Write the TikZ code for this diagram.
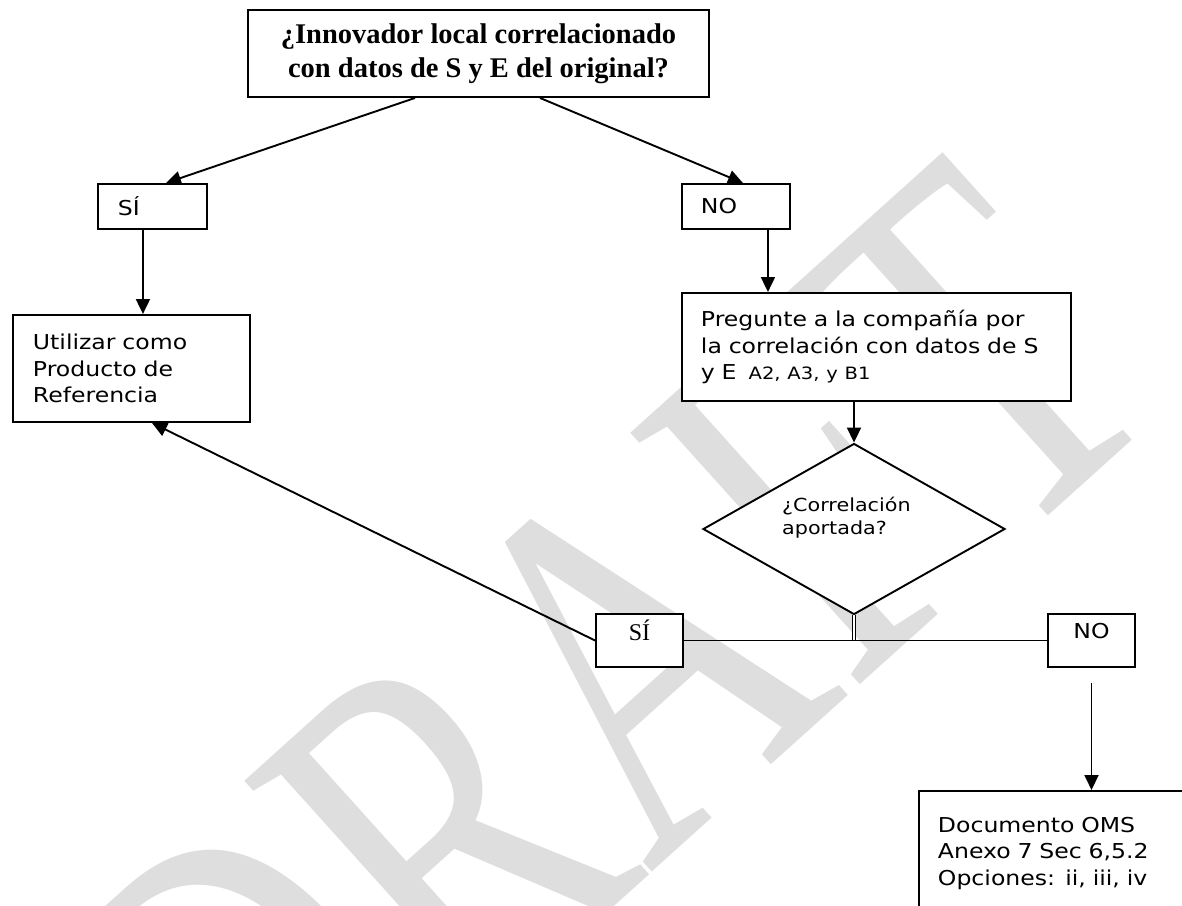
\documentclass[tikz,border=0pt]{standalone}
\usepackage{fontspec}
\setmainfont{DejaVu Sans}[FakeStretch=1.15]
\newfontfamily\vsans{DejaVu Sans}[FakeStretch=1.15]
\newfontfamily\tnr{Liberation Serif}
\usetikzlibrary{shapes.geometric,arrows.meta}
\definecolor{wm}{RGB}{222,222,222}
\begin{document}
\begin{tikzpicture}[x=1pt,y=-1pt,
  font=\vsans\fontsize{20.5}{26.5}\selectfont,
  box/.style={draw, line width=1.9pt, fill=white, rectangle, inner ysep=0pt},
  lbox/.style={box, anchor=north west, align=left},
  arr/.style={line width=1.9pt, -{Triangle[length=15pt,width=14pt]}},
  ln/.style={line width=1.9pt}]
\useasboundingbox (0,0) rectangle (1182,905);
\clip (0,0) rectangle (1182,905);
% watermark
\node[rotate=42, text=wm, inner sep=0pt, font=\tnr\fontsize{520}{520}\selectfont] (wmark) at (605,685) {\scalebox{0.72}[1]{DRAFT}};
% boxes
\node[box, minimum width=461pt, minimum height=87pt, align=center,
      font=\tnr\bfseries\fontsize{28.5}{34}\selectfont] (q) at (478.5,53.5)
      {¿Innovador local correlacionado\\con datos de S y E del original?};
\node[lbox, text width=69pt, inner xsep=20pt, minimum height=45pt] (siA) at (97,183) {SÍ};
\node[lbox, text width=70pt, inner xsep=19pt, minimum height=45pt] (noA) at (681,183) {NO};
\node[lbox, text width=197pt, inner xsep=20pt, minimum height=107pt] (util) at (12,314)
      {Utilizar como\\Producto de\\Referencia};
\node[lbox, text width=351pt, inner xsep=19pt, minimum height=108pt] (preg) at (681,292)
      {Pregunte a la compañía por\\la correlación con datos de S\\y E\hspace{12pt}{\fontsize{17}{26.5}\selectfont A2, A3, y B1}};
\node[diamond, draw, line width=1.9pt, fill=white, inner sep=0pt,
      minimum width=302pt, minimum height=171pt] (d) at (854,529) {};
\node[anchor=west, align=left, inner sep=0pt, font=\vsans\fontsize{18}{23}\selectfont] (dt) at (782,518)
      {¿Correlación\\aportada?};
\node[box, minimum width=87pt, inner xsep=0pt, text height=26pt, text depth=27pt,
      font=\tnr\fontsize{24}{28}\selectfont] (siB) at (639.5,640.5) {SÍ};
\node[box, minimum width=87pt, inner xsep=0pt, text height=24pt, text depth=29pt] (noB) at (1091.5,640.5) {NO};
\node[lbox, text width=300pt, inner xsep=19pt, inner ysep=26pt] (doc) at (918,790)
      {Documento OMS\\Anexo 7 Sec 6,5.2\\Opciones: ii, iii, iv\\\mbox{}};
% connectors
\draw[arr] ([xshift=-63.5pt]q.south) -- ([xshift=13.5pt]siA.north);
\draw[arr] ([xshift=61.5pt]q.south) -- ([xshift=7pt]noA.north);
\coordinate (c1) at ([xshift=-9.5pt]siA.south);
\draw[arr] (c1) -- (c1 |- util.north);
\coordinate (c2) at ([xshift=32pt]noA.south);
\draw[arr] (c2) -- (c2 |- preg.north);
\draw[arr] (d.north |- preg.south) -- (d.north);
\draw[double, line width=1.1pt, double distance=2pt] (d.south) -- (d.south |- siB.east);
\draw[ln] (siB.east) -- (noB.west);
\draw[arr] (siB.west) -- ([xshift=20.5pt]util.south);
\coordinate (c3) at ([yshift=-15pt]noB.south);
\draw[arr] (c3) -- (c3 |- doc.north);
\end{tikzpicture}
\end{document}
